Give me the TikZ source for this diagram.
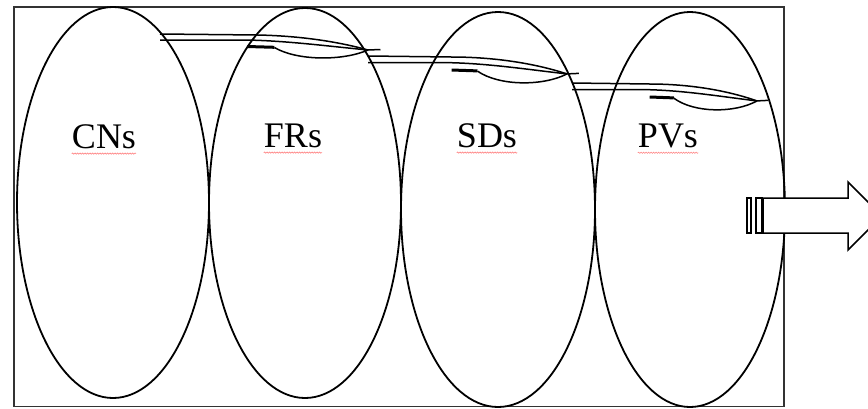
\documentclass[tikz,border=0pt]{standalone}
\usepackage{fontspec}
\setmainfont{Liberation Serif}
\usetikzlibrary{decorations.pathmorphing}
\tikzset{
  frame/.style={draw=black!80, line width=1.7pt},
  setring/.style={draw=black, line width=1.8pt},
  setname/.style={font=\fontsize{36}{40}\selectfont, anchor=base, inner sep=0pt, text=black},
  spell/.style={draw=red!50, line width=0.6pt, decorate,
    decoration={snake, amplitude=0.6pt, segment length=2.5pt}},
  ribbon/.style={draw=black, line width=1.5pt},
  barline/.style={draw=black, line width=3pt},
  blockarrow/.style={draw=black, line width=1.5pt, fill=white},
}
% one flattened curved arrow of the top chain, in local units (length 100, drop 16)
\newcommand{\chainarrow}{%
  \draw[ribbon] (0,0) -- (47,1) .. controls (70,2) and (88,9) .. (100,16) -- (106,15.5);
  \draw[ribbon] (0,6) -- (42,6) .. controls (62,7) and (80,12) .. (100,16);
  \draw[barline] (42,12.5) -- (55,13.3);
  \draw[ribbon] (55,13.5) .. controls (66,27) and (88,27) .. (100,16);
}
\begin{document}
\begin{tikzpicture}[x=1pt,y=-1pt]
\useasboundingbox (0,0) rectangle (868,408);
\clip (0,0) rectangle (868,408);

% enclosing frame
\draw[frame] (14,7) rectangle (784,406.5);

% the four overlapping sets
\draw[setring] (113,202.5) ellipse [x radius=96, y radius=195.5];
\draw[setring] (305,203) ellipse [x radius=96, y radius=195];
\draw[setring] (498,209.5) ellipse [x radius=97, y radius=197.5];
\draw[setring] (690,209.5) ellipse [x radius=95, y radius=197.5];

% set names with their wavy underlines
\node[setname] (cn) at (104,148) {CNs};
\node[setname] (fr) at (293,147) {FRs};
\node[setname] (sd) at (487,147) {SDs};
\node[setname] (pv) at (668,147) {PVs};
\foreach \n in {cn,fr,sd,pv}
  \draw[spell] ([yshift=-5pt]\n.south west) -- ([yshift=-5pt]\n.south east);

% chain of curved arrows along the top
\begin{scope}[shift={(160,34)}, xscale=2.08, yscale=1.0]
  \chainarrow
\end{scope}
\begin{scope}[shift={(368,56)}, xscale=1.99, yscale=1.12]
  \chainarrow
\end{scope}
\begin{scope}[shift={(572,83)}, xscale=1.85, yscale=1.12]
  \chainarrow
\end{scope}

% striped outgoing arrow on the right
\draw[blockarrow] (763,198) -- (848,198) -- (848,182) -- (882,216)
  -- (848,250) -- (848,233) -- (763,233) -- cycle;
\draw[blockarrow] (747,198) rectangle (751,233);
\draw[blockarrow] (756,198) rectangle (762,233);
\end{tikzpicture}
\end{document}
